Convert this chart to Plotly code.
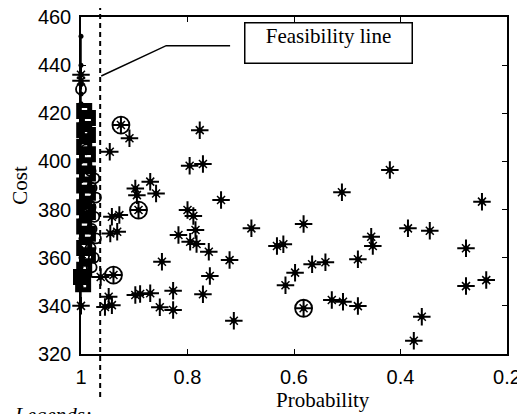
import plotly.graph_objects as go

# ---------------- data ----------------
# vertical column of solutions at probability = 1 (line with dots)
col_x = [1.0] * 26
col_y = [340, 348, 352, 356, 360, 364, 368, 372, 376, 380, 384, 388, 392,
         396, 400, 404, 408, 412, 416, 420, 424, 428, 432, 436, 440, 452]

# dense squares near probability 1
sq_x = [1.002, 0.994, 0.987, 1.002, 0.994, 0.987, 1.002, 0.994, 0.987, 1.002, 0.994,
        0.987, 1.002, 0.994, 0.987, 1.002, 0.994, 0.987, 1.002, 0.994, 0.987, 1.002,
        0.994, 0.987, 1.002, 0.994, 1.0, 0.996]
sq_y = [423, 421, 418, 416, 413, 411, 408, 406, 403, 400, 398, 395, 392,
        390, 387, 384, 381, 379, 376, 373, 370, 367, 364, 361, 358, 355, 352, 349]

# open circles
ci_x = [1.0, 0.99, 0.99, 0.982, 0.975, 0.98, 0.972, 0.982, 0.975, 0.98, 0.972, 0.982, 0.976, 0.98]
ci_y = [430, 412, 405, 396, 393, 389, 385, 381, 377, 372, 368, 364, 360, 356]

# asterisk solutions
st_x = [1.0, 0.946, 0.909, 0.898, 0.870, 0.859, 0.895, 0.942, 0.928, 0.945, 0.932,
        0.848, 0.963, 0.948, 0.942, 0.955, 0.898, 0.889, 0.870, 0.852, 0.827, 0.827,
        0.817, 0.800, 0.789, 0.785, 0.795, 0.783, 0.760, 0.771, 0.758, 0.721, 0.713,
        0.680, 0.777, 0.796, 0.771, 0.737, 0.510, 0.420, 0.247, 0.632, 0.620, 0.616,
        0.598, 0.582, 0.582, 0.566, 0.541, 0.529, 0.508, 0.480, 0.480, 0.455, 0.452,
        0.386, 0.345, 0.375, 0.360, 0.277, 0.277, 0.239, 0.925, 0.892, 0.939, 1.0, 1.0]
st_y = [340, 404.0, 409.6, 388.8, 391.6, 386.7, 386.0, 377.0, 377.7, 370.1, 370.8,
        358.3, 352.0, 343.8, 340.3, 339.5, 344.5, 344.9, 345.2, 339.4, 346.3, 338.3,
        369.4, 379.8, 377.3, 371.5, 366.6, 365.7, 362.5, 344.8, 352.4, 359.0, 333.8,
        372.2, 413.0, 398.2, 398.9, 384.0, 387.2, 396.4, 383.3, 364.9, 365.6, 348.6,
        353.8, 374.0, 339.0, 357.3, 358.1, 342.4, 341.7, 359.4, 339.9, 368.7, 364.9,
        372.2, 371.2, 325.5, 335.5, 363.9, 348.2, 350.7, 415.1, 379.8, 352.8, 436.0, 433.5]

# circled asterisks
cs_x = [0.925, 0.892, 0.939, 0.582]
cs_y = [415.1, 379.8, 352.8, 339.0]

x_ticks = [1, 0.8, 0.6, 0.4, 0.2]
x_tick_text = ["1", "0.8", "0.6", "0.4", "0.2"]
y_ticks = [320, 340, 360, 380, 400, 420, 440, 460]

feasibility_x = 0.964
leader_x = [0.962, 0.840, 0.720]
leader_y = [435.5, 448.1, 448.1]

# ---------------- geometry (page body adds an 8px offset) ----------------
W, H = 517, 406
L, R, T, B = 73, 17.5, 9, 60
PW, PH = W - L - R, H - T - B


def px(xw):
    """window x pixel -> paper x"""
    return (xw - 8 - L) / PW


def py(yw):
    """window y pixel -> paper y"""
    return (H - B - (yw - 8)) / PH


# ---------------- figure ----------------
fig = go.Figure()

fig.add_trace(go.Scatter(x=col_x, y=col_y, mode="lines+markers",
                         line=dict(color="black", width=1.5),
                         marker=dict(symbol="circle", size=5, color="black"),
                         cliponaxis=False, showlegend=False))

fig.add_trace(go.Scatter(x=sq_x, y=sq_y, mode="markers",
                         marker=dict(symbol="square-open", size=11, color="black",
                                     line=dict(width=5, color="black")),
                         cliponaxis=False, showlegend=False))

fig.add_trace(go.Scatter(x=ci_x, y=ci_y, mode="markers",
                         marker=dict(symbol="circle-open", size=10, color="black",
                                     line=dict(width=1.8, color="black")),
                         cliponaxis=False, showlegend=False))

# asterisk markers: long cross + short diagonals + centre dot
fig.add_trace(go.Scatter(x=st_x, y=st_y, mode="markers",
                         marker=dict(symbol="cross-thin-open", size=12.5, color="black",
                                     line=dict(width=2, color="black")),
                         cliponaxis=False, showlegend=False))
fig.add_trace(go.Scatter(x=st_x, y=st_y, mode="markers",
                         marker=dict(symbol="x-thin-open", size=8, color="black",
                                     line=dict(width=1.5, color="black")),
                         cliponaxis=False, showlegend=False))
fig.add_trace(go.Scatter(x=st_x, y=st_y, mode="markers",
                         marker=dict(symbol="circle", size=5.5, color="black"),
                         cliponaxis=False, showlegend=False))

fig.add_trace(go.Scatter(x=cs_x, y=cs_y, mode="markers",
                         marker=dict(symbol="circle-open", size=17, color="black",
                                     line=dict(width=1.8, color="black")),
                         cliponaxis=False, showlegend=False))

# feasibility dashed line extending beyond the plot area
fig.add_shape(type="line", xref="x", yref="paper",
              x0=feasibility_x, x1=feasibility_x, y0=py(397), y1=py(0),
              line=dict(color="black", width=2, dash="5px,4px"))

# leader line to label
fig.add_shape(type="path", xref="x", yref="y",
              path=f"M {leader_x[0]},{leader_y[0]} L {leader_x[1]},{leader_y[1]} L {leader_x[2]},{leader_y[2]}",
              line=dict(color="black", width=1.5))

fig.add_annotation(x=px(329), y=py(42.5), xref="paper", yref="paper",
                   xanchor="center", yanchor="middle",
                   text="Feasibility line", showarrow=False,
                   font=dict(family="Liberation Serif", size=21, color="black"),
                   bordercolor="black", borderwidth=1.5, borderpad=0,
                   width=166, height=39, bgcolor="white", valign="top")

fig.add_annotation(x=px(323), y=py(400), xref="paper", yref="paper",
                   xanchor="center", yanchor="middle",
                   text="Probability", showarrow=False,
                   font=dict(family="Liberation Serif", size=21, color="black"))

fig.add_annotation(x=px(12), y=py(401), xref="paper", yref="paper",
                   xanchor="left", yanchor="top",
                   text="<i>Legends:</i>", showarrow=False,
                   font=dict(family="Liberation Serif", size=21, color="black"))

axis_common = dict(showgrid=False, zeroline=False, showline=True, mirror="ticks",
                   linecolor="black", linewidth=1.5, ticks="inside", ticklen=5,
                   tickcolor="black", tickwidth=1.2, automargin=False,
                   ticklabeloverflow="allow",
                   tickfont=dict(family="Liberation Sans", size=20, color="black"))

fig.update_xaxes(range=[1, 0.2], tickvals=x_ticks, ticktext=x_tick_text,
                 ticklabelstandoff=4, **axis_common)
fig.update_yaxes(range=[320, 460], tickvals=y_ticks,
                 title=dict(text="Cost", font=dict(family="Liberation Serif", size=21, color="black"),
                            standoff=10),
                 ticklabelstandoff=4, **axis_common)

fig.update_layout(template="none", width=W, height=H,
                  margin=dict(l=L, r=R, t=T, b=B, autoexpand=False),
                  plot_bgcolor="white", paper_bgcolor="white",
                  showlegend=False)

fig.write_html("out.html")
